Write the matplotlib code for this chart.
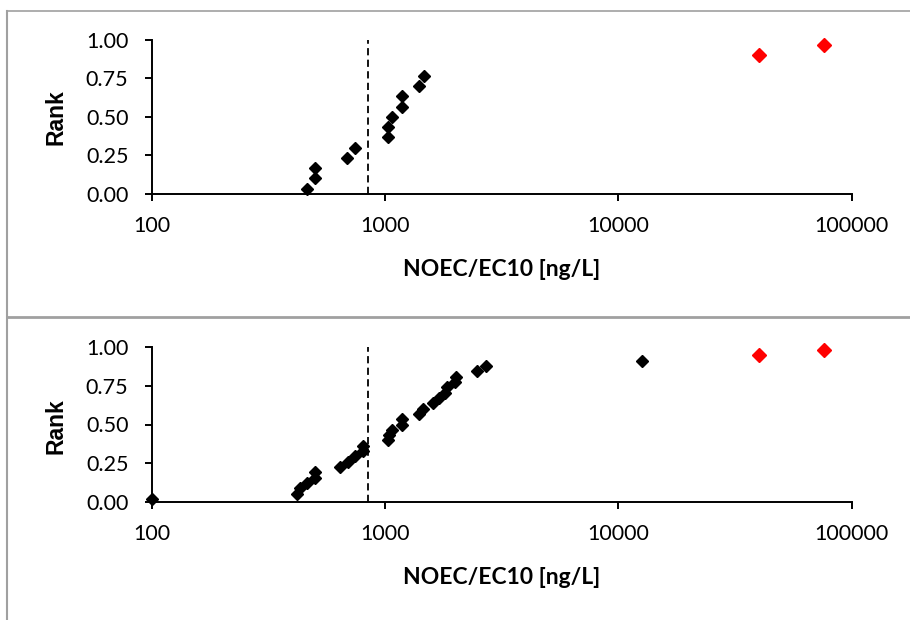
import matplotlib
matplotlib.use("Agg")
import matplotlib.pyplot as plt
from matplotlib.lines import Line2D
from matplotlib.ticker import FixedLocator, FuncFormatter

# Species sensitivity data: NOEC/EC10 values [ng/L] and their plotting ranks
top_black_x = [460, 500, 500, 687, 744, 1024, 1024, 1071, 1183, 1183, 1398, 1461]
top_black_rank = [0.033, 0.100, 0.167, 0.233, 0.300, 0.367, 0.433, 0.500,
                  0.567, 0.633, 0.700, 0.767]
top_red_x = [40000, 76000]
top_red_rank = [0.900, 0.967]

bot_black_x = [100, 417, 430, 460, 500, 500, 639, 690, 741, 805, 805, 1023,
               1040, 1072, 1183, 1183, 1399, 1456, 1597, 1700, 1803, 1846,
               1991, 2011, 2483, 2705, 12600]
bot_black_rank = [0.017, 0.052, 0.086, 0.121, 0.155, 0.190, 0.224, 0.259,
                  0.293, 0.328, 0.362, 0.397, 0.431, 0.466, 0.500, 0.534,
                  0.569, 0.603, 0.638, 0.672, 0.707, 0.741, 0.776, 0.810,
                  0.845, 0.879, 0.914]
bot_red_x = [40000, 76000]
bot_red_rank = [0.948, 0.983]

threshold = 843  # vertical reference concentration [ng/L]

x_ticks = [100, 1000, 10000, 100000]
y_ticks = [0.0, 0.25, 0.50, 0.75, 1.00]

TICK_FONT = "Lato"
W, H = 910, 620
fig = plt.figure(figsize=(W / 100, H / 100), dpi=100)
fig.patch.set_facecolor("white")

# axes rectangles in pixels: left, top(1.00), right, bottom(0.00)
panels = [
    (152, 40.0, 851.7, 193.7, top_black_x, top_black_rank, top_red_x, top_red_rank, 0.50),
    (152, 347.3, 851.7, 501.7, bot_black_x, bot_black_rank, bot_red_x, bot_red_rank, 0.49),
]

for (l, t, r, b, bx, by, rx, ry, ylab_y) in panels:
    ax = fig.add_axes([l / W, 1 - b / H, (r - l) / W, (b - t) / H])
    ax.set_xscale("log")
    ax.set_xlim(100, 100000)
    ax.set_ylim(0, 1)
    ax.xaxis.set_major_locator(FixedLocator(x_ticks))
    ax.xaxis.set_minor_locator(FixedLocator([]))
    ax.xaxis.set_major_formatter(FuncFormatter(lambda v, p: f"{v:.0f}"))
    ax.yaxis.set_major_locator(FixedLocator(y_ticks))
    ax.yaxis.set_major_formatter(FuncFormatter(lambda v, p: f"{v:.2f}"))
    for s in ("top", "right"):
        ax.spines[s].set_visible(False)
    for s in ("left", "bottom"):
        ax.spines[s].set_linewidth(1.4)
        ax.spines[s].set_color("black")
    ax.tick_params(axis="both", which="major", direction="out", length=5,
                   width=1.4, color="black", labelsize=15.5)
    ax.tick_params(axis="x", pad=11)
    ax.tick_params(axis="y", pad=12)
    for lab in ax.get_xticklabels() + ax.get_yticklabels():
        lab.set_fontfamily(TICK_FONT)

    ax.axvline(threshold, ymin=0, ymax=1, color="black", lw=1.3,
               linestyle=(0, (4, 2.4)), zorder=2)
    ax.plot(bx, by, linestyle="none", marker="D", ms=6.2, color="black",
            mec="black", zorder=3, clip_on=False)
    ax.plot(rx, ry, linestyle="none", marker="D", ms=7.5, color="#ff0000",
            mec="#ff0000", zorder=3, clip_on=False)

    ax.set_xlabel("NOEC/EC10 [ng/L]", fontfamily=TICK_FONT, fontweight="bold",
                  fontsize=16.5)
    ax.xaxis.set_label_coords(0.5, -(76.0 / (b - t)))
    ax.xaxis.label.set_va("center")
    ax.set_ylabel("Rank", fontfamily="Liberation Sans", fontweight="bold",
                  fontsize=16.5)
    ax.yaxis.set_label_coords(-(96.0 / (r - l)), ylab_y)
    ax.yaxis.label.set_va("center")

# chart-area borders
border = "#a0a0a0"
fig.add_artist(Line2D([7 / W, 7 / W], [1 - 11 / H, 0], transform=fig.transFigure,
                      color=border, lw=1.5))
fig.add_artist(Line2D([7 / W, 1], [1 - 11 / H, 1 - 11 / H], transform=fig.transFigure,
                      color=border, lw=1.2))
fig.add_artist(Line2D([7 / W, 1], [1 - 317 / H, 1 - 317 / H], transform=fig.transFigure,
                      color=border, lw=2.0))

fig.savefig("out.png", dpi=100, facecolor="white")
